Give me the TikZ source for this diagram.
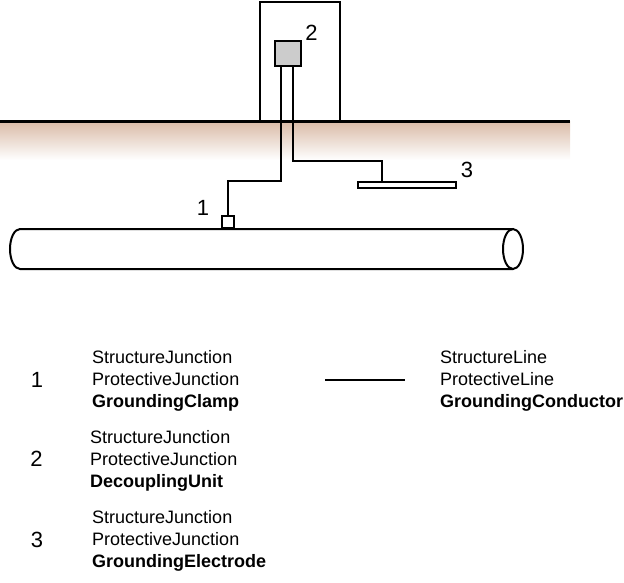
\documentclass[tikz,border=0pt]{standalone}
\usepackage{fontspec}
\setmainfont{Liberation Sans}
\definecolor{soil}{RGB}{217,186,166}
\definecolor{unitgray}{RGB}{204,204,204}
\begin{document}
\begin{tikzpicture}[x=1pt,y=-1pt,
  wire/.style={line width=2pt},
  part/.style={draw,line width=2pt,inner sep=0pt,minimum size=0pt},
  numlabel/.style={inner sep=0pt,font=\fontsize{22}{24}\selectfont},
  legtext/.style={inner sep=0pt,anchor=west,align=left,font=\fontsize{18}{22}\selectfont}]
\useasboundingbox (0,0) rectangle (624,582);
% soil
\shade[top color=soil,bottom color=white] (0,121) rectangle (570,160);
\draw[line width=3pt] (0,121) coordinate (g1) -- (570,121) coordinate (g2);
% building
\node[part,minimum width=80pt,minimum height=120pt,anchor=north west] (building) at (259,1) {};
% decoupling unit
\node[part,fill=unitgray,minimum width=26pt,minimum height=25pt,anchor=north west] (du) at (274,40) {};
\node[numlabel] (l2) at (311.5,33) {2};
% pipe
\draw[line width=2pt] (513,229) coordinate (ptr) -- (20,229) coordinate (ptl)
  arc[start angle=270,end angle=90,x radius=10,y radius=20] coordinate (pbl) -- (513,269) coordinate (pbr);
\draw[line width=2pt] (513,249) ellipse[x radius=10,y radius=20];
% clamp
\node[part,fill=white,minimum width=12pt,minimum height=12pt,anchor=south west] (clamp) at (221,229) {};
\node[numlabel] (l1) at (203,208) {1};
% electrode
\node[part,fill=white,minimum width=98pt,minimum height=6pt,anchor=north west] (electrode) at (357,181) {};
\node[numlabel] (l3) at (467,170) {3};
% wires
\coordinate (wa) at (281,181);
\coordinate (wb) at (293,161);
\draw[wire] (du.south -| wa) -- (wa) -- (wa -| clamp.north) -- (clamp.north);
\draw[wire] (du.south -| wb) -- (wb) -- (382,161) coordinate (wc) -- (wc |- electrode.north);
% legend
\node[numlabel] (k1) at (37,380) {1};
\node[legtext] (t1) at (92,381) {StructureJunction\\ProtectiveJunction\\\textbf{GroundingClamp}};
\node[numlabel] (k2) at (36.5,459) {2};
\node[legtext] (t2) at (90,461) {StructureJunction\\ProtectiveJunction\\\textbf{DecouplingUnit}};
\node[numlabel] (k3) at (37,540) {3};
\node[legtext] (t3) at (92,541) {StructureJunction\\ProtectiveJunction\\\textbf{GroundingElectrode}};
\draw[line width=2pt] (325,380) coordinate (ka) -- (405,380) coordinate (kb);
\node[legtext] (t4) at (440,381) {StructureLine\\ProtectiveLine\\\textbf{GroundingConductor}};
\end{tikzpicture}
\end{document}
